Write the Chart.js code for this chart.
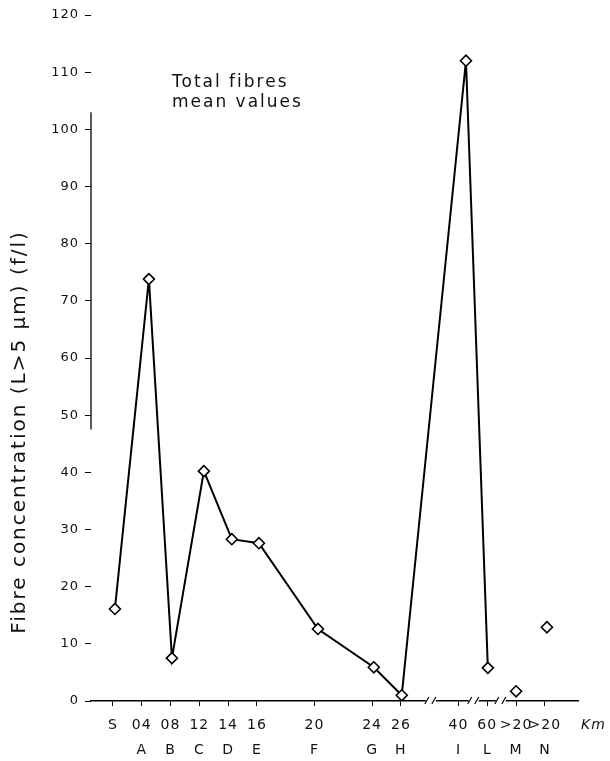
<!DOCTYPE html>
<html><head><meta charset="utf-8">
<script src="https://cdn.jsdelivr.net/npm/chart.js@4"></script>
<style>html,body{margin:0;padding:0;background:#fff}</style>
</head><body>
<canvas id="c" width="610" height="761"></canvas>
<script>
// Distance labels (km) and site letters along the x axis
const categories = ['S','04','08','12','14','16','20','24','26','40','60','>20','>20'];
const sites      = ['', 'A','B','C','D','E','F','G','H','I','L','M','N'];
// Position of each site on the (broken) distance axis
const tickPositions  = [0,1,2,3,4,5,7,9,10,12,13,14,15];
// Where each mean value is plotted
const pointPositions = [0.07,1.25,2.05,3.16,4.13,5.07,7.12,9.06,10.03,12.26,13.02,14.0,15.07];
// Total fibres, mean values (f/l)
const fibreMeans = [16.1,73.8,7.5,40.2,28.3,27.6,12.6,5.9,1.0,112,5.8,1.7,12.9];
// Whether a site belongs to the joined line
const joined = [true,true,true,true,true,true,true,true,true,true,true,false,false];
// Axis breaks between sites
const axisBreaks = [11.04,12.53,13.47];
const yTicks = [0,10,20,30,40,50,60,70,80,90,100,110,120];

const joinedPts = [], loosePts = [];
fibreMeans.forEach((v,i)=>{
  const p = {x: pointPositions[i], y: v};
  (joined[i] ? joinedPts : loosePts).push(p);
});

const FONT = 'DejaVu Sans';
const spacing = {
  id:'spacing',
  beforeLayout(chart){ chart.ctx.letterSpacing = '1px'; },
  beforeDraw(chart){ chart.ctx.letterSpacing = '1px'; }
};
const decor = {
  id:'decor',
  afterDraw(chart){
    const ctx = chart.ctx, a = chart.chartArea, xs = chart.scales.x, ys = chart.scales.y;
    ctx.save();
    // partial y axis line (as in the scanned figure)
    ctx.strokeStyle = '#000'; ctx.lineWidth = 1.3;
    ctx.beginPath();
    ctx.moveTo(a.left, ys.getPixelForValue(103));
    ctx.lineTo(a.left, ys.getPixelForValue(47.5));
    ctx.stroke();
    // axis breaks
    const yb = a.bottom;
    axisBreaks.forEach(b=>{
      const px = xs.getPixelForValue(b);
      ctx.fillStyle = '#fff';
      ctx.fillRect(px-5, yb-3, 10, 6);
      ctx.strokeStyle = '#000'; ctx.lineWidth = 1.2;
      ctx.beginPath();
      ctx.moveTo(px-6, yb+3); ctx.lineTo(px-2, yb-4);
      ctx.moveTo(px+1, yb+3); ctx.lineTo(px+5, yb-4);
      ctx.stroke();
    });
    ctx.fillStyle = '#111';
    // Km unit
    ctx.letterSpacing = '1px';
    ctx.font = 'italic 14px "' + FONT + '"';
    ctx.textAlign = 'left'; ctx.textBaseline = 'middle';
    ctx.fillText('Km', a.right + 3, a.bottom + 24);
    // annotation
    ctx.letterSpacing = '2px';
    ctx.font = '17px "' + FONT + '"';
    ctx.textBaseline = 'alphabetic';
    ctx.fillText('Total fibres', a.left + 81, a.top + 72);
    ctx.fillText('mean values', a.left + 81, a.top + 92);
    // y title
    ctx.letterSpacing = '2px';
    ctx.font = '20px "' + FONT + '"';
    ctx.translate(25, 432);
    ctx.rotate(-Math.PI/2);
    ctx.textAlign = 'center';
    ctx.fillText('Fibre concentration (L>5 \u03bcm) (f/l)', 0, 0);
    ctx.restore();
  }
};

const pointStyle = {
  borderColor:'#000', backgroundColor:'#fff', pointStyle:'rectRot',
  pointRadius:5.5, pointBorderWidth:1.6, pointBackgroundColor:'#fff', pointBorderColor:'#000'
};

new Chart(document.getElementById('c'), {
  type:'line',
  data:{datasets:[
    Object.assign({label:'Total fibres', data:joinedPts, borderWidth:2, tension:0}, pointStyle),
    Object.assign({label:'Total fibres (isolated)', data:loosePts, showLine:false}, pointStyle)
  ]},
  options:{
    responsive:false, animation:false, devicePixelRatio:1,
    layout:{padding:{top:15,right:32,left:0,bottom:0}},
    plugins:{legend:{display:false}, tooltip:{enabled:false}},
    scales:{
      x:{type:'linear', min:-0.76, max:16.15,
        afterBuildTicks:s=>{ s.ticks = tickPositions.map(v=>({value:v})); },
        afterFit:s=>{ s.height = 60; },
        grid:{drawOnChartArea:false, drawTicks:true, tickLength:5, color:'#000', lineWidth:1},
        border:{display:true, color:'#000', width:1.5},
        ticks:{autoSkip:false, maxRotation:0, padding:7, color:'#111',
          font:{family:FONT, size:14, lineHeight:1.8},
          callback:(v,i)=>[categories[i], sites[i]]}
      },
      y:{min:0, max:120,
        afterBuildTicks:s=>{ s.ticks = yTicks.map(v=>({value:v})); },
        afterFit:s=>{ s.width = 91; },
        grid:{drawOnChartArea:false, drawTicks:true, tickLength:6, color:'#000', lineWidth:1},
        border:{display:false},
        ticks:{padding:6, color:'#111', font:{family:FONT, size:13}}
      }
    }
  },
  plugins:[spacing, decor]
});
</script>
</body></html>
